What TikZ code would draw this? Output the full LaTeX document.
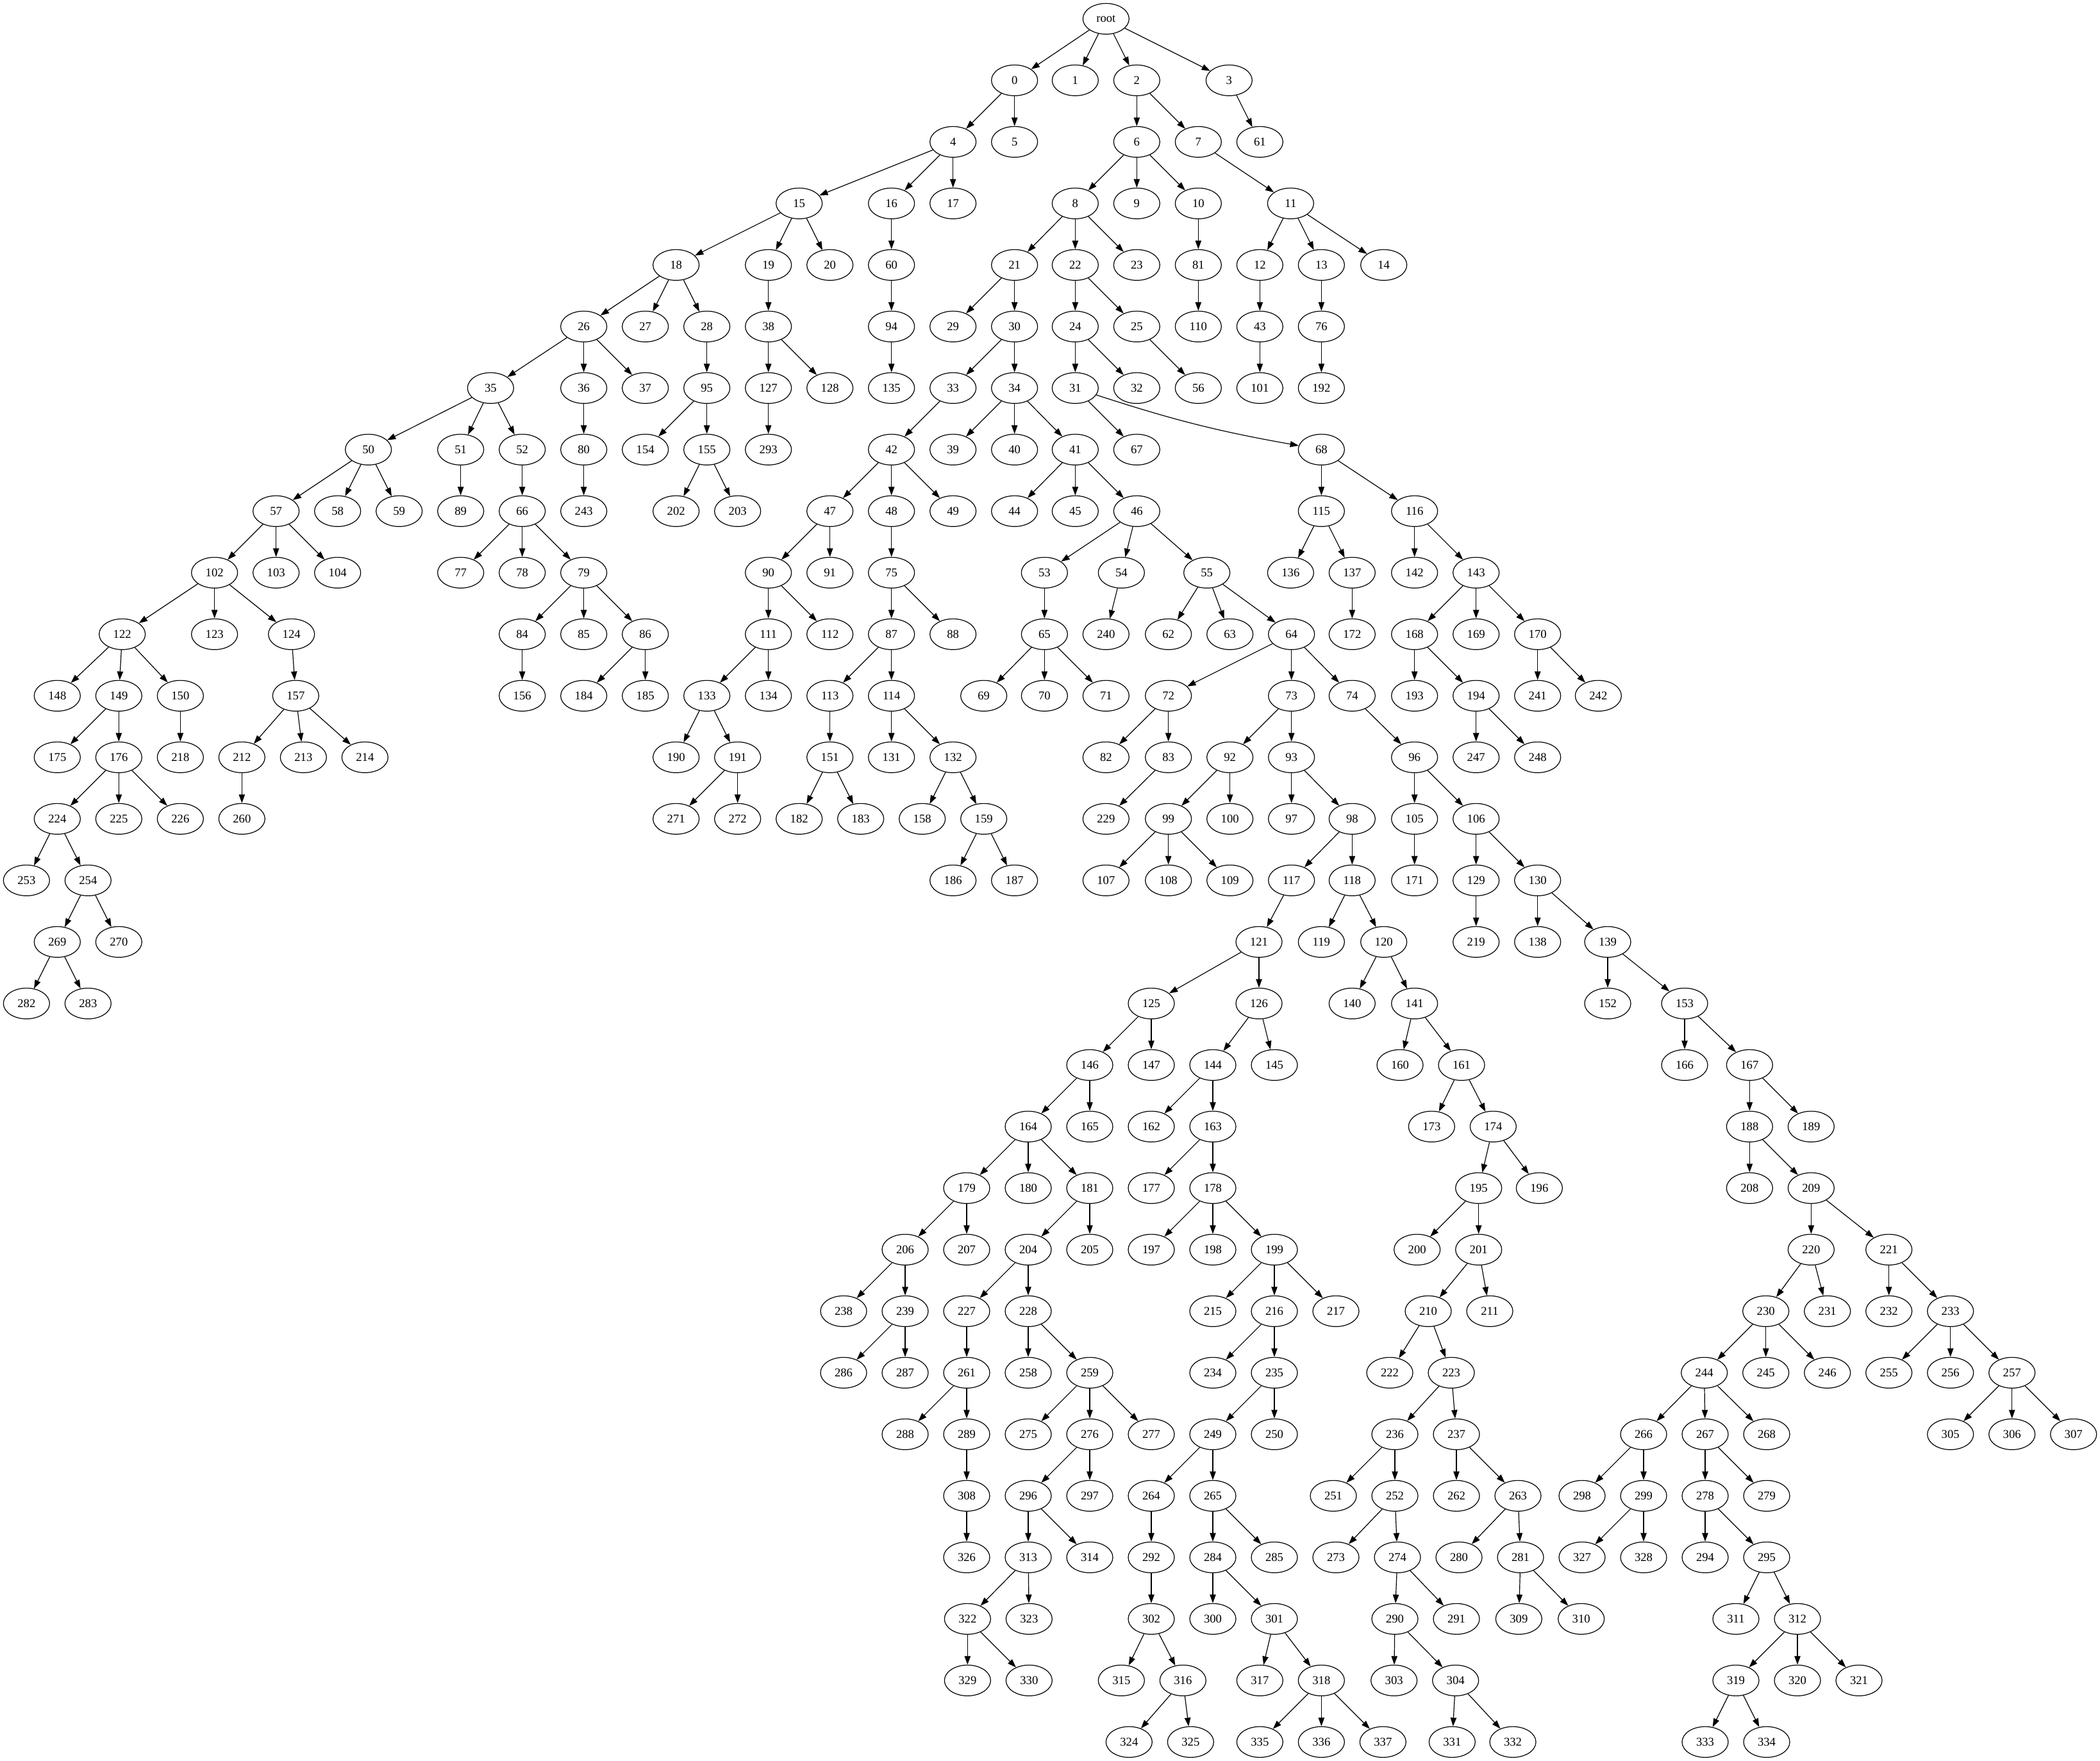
\documentclass[tikz,border=0pt]{standalone}
\usepackage{fontspec}
\setmainfont{Liberation Serif}
\usepackage{tikz}
\usetikzlibrary{shapes.geometric, arrows.meta}
\tikzset{
  vert/.style={ellipse, draw=black, line width=0.9pt, fill=white,
               minimum width=54pt, minimum height=36pt, inner sep=0pt,
               font=\fontsize{14}{16}\selectfont},
  arr/.style={-{Triangle[length=10pt, width=7pt]}, line width=0.9pt, draw=black},
}

\begin{document}
\begin{tikzpicture}[x=1pt, y=-72pt]

\useasboundingbox (0,-0.3056) rectangle (2457,28.3056);

% ========== Rank 0-4 ==========
\node[vert] (root) at (1294,0) {root};

\node[vert] (n0) at (1187,1) {0};
\node[vert] (n1) at (1258,1) {1};
\node[vert] (n2) at (1330,1) {2};
\node[vert] (n3) at (1438,1) {3};

\node[vert] (n4) at (1115,2) {4};
\node[vert] (n5) at (1187,2) {5};
\node[vert] (n6) at (1330,2) {6};
\node[vert] (n7) at (1402,2) {7};
\node[vert] (n61) at (1474,2) {61};

\node[vert] (n15) at (935,3) {15};
\node[vert] (n16) at (1043,3) {16};
\node[vert] (n17) at (1115,3) {17};
\node[vert] (n8) at (1258,3) {8};
\node[vert] (n9) at (1330,3) {9};
\node[vert] (n10) at (1402,3) {10};
\node[vert] (n11) at (1510,3) {11};

\node[vert] (n18) at (791,4) {18};
\node[vert] (n19) at (899,4) {19};
\node[vert] (n20) at (971,4) {20};
\node[vert] (n60) at (1043,4) {60};
\node[vert] (n21) at (1187,4) {21};
\node[vert] (n22) at (1258,4) {22};
\node[vert] (n23) at (1330,4) {23};
\node[vert] (n81) at (1402,4) {81};
\node[vert] (n12) at (1474,4) {12};
\node[vert] (n13) at (1546,4) {13};
\node[vert] (n14) at (1619,4) {14};

% ========== Rank 5-9 ==========
\node[vert] (n26) at (683,5) {26};
\node[vert] (n27) at (755,5) {27};
\node[vert] (n28) at (827,5) {28};
\node[vert] (n38) at (899,5) {38};
\node[vert] (n94) at (1043,5) {94};
\node[vert] (n29) at (1115,5) {29};
\node[vert] (n30) at (1187,5) {30};
\node[vert] (n24) at (1258,5) {24};
\node[vert] (n25) at (1330,5) {25};
\node[vert] (n110) at (1402,5) {110};
\node[vert] (n43) at (1474,5) {43};
\node[vert] (n76) at (1546,5) {76};

\node[vert] (n35) at (574,6) {35};
\node[vert] (n36) at (683,6) {36};
\node[vert] (n37) at (755,6) {37};
\node[vert] (n95) at (827,6) {95};
\node[vert] (n127) at (899,6) {127};
\node[vert] (n128) at (971,6) {128};
\node[vert] (n135) at (1043,6) {135};
\node[vert] (n33) at (1115,6) {33};
\node[vert] (n34) at (1187,6) {34};
\node[vert] (n31) at (1258,6) {31};
\node[vert] (n32) at (1330,6) {32};
\node[vert] (n56) at (1402,6) {56};
\node[vert] (n101) at (1474,6) {101};
\node[vert] (n192) at (1546,6) {192};

\node[vert] (n50) at (431,7) {50};
\node[vert] (n51) at (539,7) {51};
\node[vert] (n52) at (611,7) {52};
\node[vert] (n80) at (683,7) {80};
\node[vert] (n154) at (755,7) {154};
\node[vert] (n155) at (827,7) {155};
\node[vert] (n293) at (899,7) {293};
\node[vert] (n42) at (1043,7) {42};
\node[vert] (n39) at (1115,7) {39};
\node[vert] (n40) at (1187,7) {40};
\node[vert] (n41) at (1258,7) {41};
\node[vert] (n67) at (1330,7) {67};
\node[vert] (n68) at (1546,7) {68};

\node[vert] (n57) at (323,8) {57};
\node[vert] (n58) at (395,8) {58};
\node[vert] (n59) at (467,8) {59};
\node[vert] (n89) at (539,8) {89};
\node[vert] (n66) at (611,8) {66};
\node[vert] (n243) at (683,8) {243};
\node[vert] (n202) at (791,8) {202};
\node[vert] (n203) at (863,8) {203};
\node[vert] (n47) at (971,8) {47};
\node[vert] (n48) at (1043,8) {48};
\node[vert] (n49) at (1115,8) {49};
\node[vert] (n44) at (1187,8) {44};
\node[vert] (n45) at (1258,8) {45};
\node[vert] (n46) at (1330,8) {46};
\node[vert] (n115) at (1546,8) {115};
\node[vert] (n116) at (1655,8) {116};

\node[vert] (n102) at (251,9) {102};
\node[vert] (n103) at (323,9) {103};
\node[vert] (n104) at (395,9) {104};
\node[vert] (n77) at (539,9) {77};
\node[vert] (n78) at (611,9) {78};
\node[vert] (n79) at (683,9) {79};
\node[vert] (n90) at (899,9) {90};
\node[vert] (n91) at (971,9) {91};
\node[vert] (n75) at (1043,9) {75};
\node[vert] (n53) at (1222,9) {53};
\node[vert] (n54) at (1312,9) {54};
\node[vert] (n55) at (1412,9) {55};
\node[vert] (n136) at (1510,9) {136};
\node[vert] (n137) at (1582,9) {137};
\node[vert] (n142) at (1655,9) {142};
\node[vert] (n143) at (1727,9) {143};

% ========== Rank 10-14 ==========
\node[vert] (n122) at (143,10) {122};
\node[vert] (n123) at (251,10) {123};
\node[vert] (n124) at (341,10) {124};
\node[vert] (n84) at (611,10) {84};
\node[vert] (n85) at (683,10) {85};
\node[vert] (n86) at (755,10) {86};
\node[vert] (n111) at (899,10) {111};
\node[vert] (n112) at (971,10) {112};
\node[vert] (n87) at (1043,10) {87};
\node[vert] (n88) at (1115,10) {88};
\node[vert] (n65) at (1222,10) {65};
\node[vert] (n240) at (1294,10) {240};
\node[vert] (n62) at (1367,10) {62};
\node[vert] (n63) at (1439,10) {63};
\node[vert] (n64) at (1511,10) {64};
\node[vert] (n172) at (1582,10) {172};
\node[vert] (n168) at (1655,10) {168};
\node[vert] (n169) at (1727,10) {169};
\node[vert] (n170) at (1799,10) {170};

\node[vert] (n148) at (67,11) {148};
\node[vert] (n149) at (139,11) {149};
\node[vert] (n150) at (211,11) {150};
\node[vert] (n157) at (346,11) {157};
\node[vert] (n156) at (611,11) {156};
\node[vert] (n184) at (683,11) {184};
\node[vert] (n185) at (755,11) {185};
\node[vert] (n133) at (827,11) {133};
\node[vert] (n134) at (899,11) {134};
\node[vert] (n113) at (971,11) {113};
\node[vert] (n114) at (1043,11) {114};
\node[vert] (n69) at (1151,11) {69};
\node[vert] (n70) at (1222,11) {70};
\node[vert] (n71) at (1294,11) {71};
\node[vert] (n72) at (1367,11) {72};
\node[vert] (n73) at (1511,11) {73};
\node[vert] (n74) at (1582,11) {74};
\node[vert] (n193) at (1655,11) {193};
\node[vert] (n194) at (1727,11) {194};
\node[vert] (n241) at (1799,11) {241};
\node[vert] (n242) at (1870,11) {242};

\node[vert] (n175) at (67,12) {175};
\node[vert] (n176) at (139,12) {176};
\node[vert] (n218) at (211,12) {218};
\node[vert] (n212) at (283,12) {212};
\node[vert] (n213) at (355,12) {213};
\node[vert] (n214) at (427,12) {214};
\node[vert] (n190) at (791,12) {190};
\node[vert] (n191) at (863,12) {191};
\node[vert] (n151) at (971,12) {151};
\node[vert] (n131) at (1043,12) {131};
\node[vert] (n132) at (1115,12) {132};
\node[vert] (n82) at (1294,12) {82};
\node[vert] (n83) at (1367,12) {83};
\node[vert] (n92) at (1439,12) {92};
\node[vert] (n93) at (1511,12) {93};
\node[vert] (n96) at (1655,12) {96};
\node[vert] (n247) at (1727,12) {247};
\node[vert] (n248) at (1799,12) {248};

\node[vert] (n224) at (67,13) {224};
\node[vert] (n225) at (139,13) {225};
\node[vert] (n226) at (211,13) {226};
\node[vert] (n260) at (283,13) {260};
\node[vert] (n271) at (791,13) {271};
\node[vert] (n272) at (863,13) {272};
\node[vert] (n182) at (935,13) {182};
\node[vert] (n183) at (1007,13) {183};
\node[vert] (n158) at (1079,13) {158};
\node[vert] (n159) at (1151,13) {159};
\node[vert] (n229) at (1294,13) {229};
\node[vert] (n99) at (1367,13) {99};
\node[vert] (n100) at (1439,13) {100};
\node[vert] (n97) at (1511,13) {97};
\node[vert] (n98) at (1582,13) {98};
\node[vert] (n105) at (1655,13) {105};
\node[vert] (n106) at (1727,13) {106};

\node[vert] (n253) at (31,14) {253};
\node[vert] (n254) at (103,14) {254};
\node[vert] (n186) at (1115,14) {186};
\node[vert] (n187) at (1187,14) {187};
\node[vert] (n107) at (1294,14) {107};
\node[vert] (n108) at (1367,14) {108};
\node[vert] (n109) at (1439,14) {109};
\node[vert] (n117) at (1511,14) {117};
\node[vert] (n118) at (1582,14) {118};
\node[vert] (n171) at (1655,14) {171};
\node[vert] (n129) at (1727,14) {129};
\node[vert] (n130) at (1799,14) {130};

% ========== Rank 15-19 ==========
\node[vert] (n269) at (67,15) {269};
\node[vert] (n270) at (139,15) {270};
\node[vert] (n121) at (1473,15) {121};
\node[vert] (n119) at (1546,15) {119};
\node[vert] (n120) at (1619,15) {120};
\node[vert] (n219) at (1727,15) {219};
\node[vert] (n138) at (1799,15) {138};
\node[vert] (n139) at (1881,15) {139};

\node[vert] (n282) at (31,16) {282};
\node[vert] (n283) at (103,16) {283};
\node[vert] (n125) at (1347,16) {125};
\node[vert] (n126) at (1473,16) {126};
\node[vert] (n140) at (1582,16) {140};
\node[vert] (n141) at (1655,16) {141};
\node[vert] (n152) at (1881,16) {152};
\node[vert] (n153) at (1971,16) {153};

\node[vert] (n146) at (1275,17) {146};
\node[vert] (n147) at (1347,17) {147};
\node[vert] (n144) at (1419,17) {144};
\node[vert] (n145) at (1491,17) {145};
\node[vert] (n160) at (1638,17) {160};
\node[vert] (n161) at (1710,17) {161};
\node[vert] (n166) at (1971,17) {166};
\node[vert] (n167) at (2047,17) {167};

\node[vert] (n164) at (1203,18) {164};
\node[vert] (n165) at (1275,18) {165};
\node[vert] (n162) at (1347,18) {162};
\node[vert] (n163) at (1419,18) {163};
\node[vert] (n173) at (1675,18) {173};
\node[vert] (n174) at (1747,18) {174};
\node[vert] (n188) at (2047,18) {188};
\node[vert] (n189) at (2119,18) {189};

\node[vert] (n179) at (1131,19) {179};
\node[vert] (n180) at (1203,19) {180};
\node[vert] (n181) at (1275,19) {181};
\node[vert] (n177) at (1347,19) {177};
\node[vert] (n178) at (1419,19) {178};
\node[vert] (n195) at (1730,19) {195};
\node[vert] (n196) at (1801,19) {196};
\node[vert] (n208) at (2047,19) {208};
\node[vert] (n209) at (2119,19) {209};

% ========== Rank 20-24 ==========
\node[vert] (n206) at (1059,20) {206};
\node[vert] (n207) at (1131,20) {207};
\node[vert] (n204) at (1203,20) {204};
\node[vert] (n205) at (1275,20) {205};
\node[vert] (n197) at (1347,20) {197};
\node[vert] (n198) at (1419,20) {198};
\node[vert] (n199) at (1491,20) {199};
\node[vert] (n200) at (1658,20) {200};
\node[vert] (n201) at (1730,20) {201};
\node[vert] (n220) at (2119,20) {220};
\node[vert] (n221) at (2210,20) {221};

\node[vert] (n238) at (987,21) {238};
\node[vert] (n239) at (1059,21) {239};
\node[vert] (n227) at (1131,21) {227};
\node[vert] (n228) at (1203,21) {228};
\node[vert] (n215) at (1419,21) {215};
\node[vert] (n216) at (1491,21) {216};
\node[vert] (n217) at (1563,21) {217};
\node[vert] (n210) at (1671,21) {210};
\node[vert] (n211) at (1743,21) {211};
\node[vert] (n230) at (2066,21) {230};
\node[vert] (n231) at (2138,21) {231};
\node[vert] (n232) at (2210,21) {232};
\node[vert] (n233) at (2282,21) {233};

\node[vert] (n286) at (987,22) {286};
\node[vert] (n287) at (1059,22) {287};
\node[vert] (n261) at (1131,22) {261};
\node[vert] (n258) at (1203,22) {258};
\node[vert] (n259) at (1275,22) {259};
\node[vert] (n234) at (1419,22) {234};
\node[vert] (n235) at (1491,22) {235};
\node[vert] (n222) at (1626,22) {222};
\node[vert] (n223) at (1698,22) {223};
\node[vert] (n244) at (1994,22) {244};
\node[vert] (n245) at (2066,22) {245};
\node[vert] (n246) at (2138,22) {246};
\node[vert] (n255) at (2210,22) {255};
\node[vert] (n256) at (2282,22) {256};
\node[vert] (n257) at (2354,22) {257};

\node[vert] (n288) at (1059,23) {288};
\node[vert] (n289) at (1131,23) {289};
\node[vert] (n275) at (1203,23) {275};
\node[vert] (n276) at (1275,23) {276};
\node[vert] (n277) at (1347,23) {277};
\node[vert] (n249) at (1419,23) {249};
\node[vert] (n250) at (1491,23) {250};
\node[vert] (n236) at (1632,23) {236};
\node[vert] (n237) at (1704,23) {237};
\node[vert] (n266) at (1923,23) {266};
\node[vert] (n267) at (1995,23) {267};
\node[vert] (n268) at (2067,23) {268};
\node[vert] (n305) at (2282,23) {305};
\node[vert] (n306) at (2354,23) {306};
\node[vert] (n307) at (2426,23) {307};

\node[vert] (n308) at (1131,24) {308};
\node[vert] (n296) at (1203,24) {296};
\node[vert] (n297) at (1275,24) {297};
\node[vert] (n264) at (1347,24) {264};
\node[vert] (n265) at (1419,24) {265};
\node[vert] (n251) at (1560,24) {251};
\node[vert] (n252) at (1632,24) {252};
\node[vert] (n262) at (1704,24) {262};
\node[vert] (n263) at (1776,24) {263};
\node[vert] (n298) at (1851,24) {298};
\node[vert] (n299) at (1923,24) {299};
\node[vert] (n278) at (1995,24) {278};
\node[vert] (n279) at (2067,24) {279};

% ========== Rank 25-28 ==========
\node[vert] (n326) at (1131,25) {326};
\node[vert] (n313) at (1203,25) {313};
\node[vert] (n314) at (1275,25) {314};
\node[vert] (n292) at (1347,25) {292};
\node[vert] (n284) at (1419,25) {284};
\node[vert] (n285) at (1491,25) {285};
\node[vert] (n273) at (1563,25) {273};
\node[vert] (n274) at (1635,25) {274};
\node[vert] (n280) at (1707,25) {280};
\node[vert] (n281) at (1779,25) {281};
\node[vert] (n327) at (1851,25) {327};
\node[vert] (n328) at (1923,25) {328};
\node[vert] (n294) at (1995,25) {294};
\node[vert] (n295) at (2067,25) {295};

\node[vert] (n322) at (1132,26) {322};
\node[vert] (n323) at (1204,26) {323};
\node[vert] (n302) at (1347,26) {302};
\node[vert] (n300) at (1419,26) {300};
\node[vert] (n301) at (1491,26) {301};
\node[vert] (n290) at (1632,26) {290};
\node[vert] (n291) at (1704,26) {291};
\node[vert] (n309) at (1777,26) {309};
\node[vert] (n310) at (1850,26) {310};
\node[vert] (n311) at (2031,26) {311};
\node[vert] (n312) at (2103,26) {312};

\node[vert] (n329) at (1132,27) {329};
\node[vert] (n330) at (1204,27) {330};
\node[vert] (n315) at (1312,27) {315};
\node[vert] (n316) at (1384,27) {316};
\node[vert] (n317) at (1474,27) {317};
\node[vert] (n318) at (1546,27) {318};
\node[vert] (n303) at (1631,27) {303};
\node[vert] (n304) at (1703,27) {304};
\node[vert] (n319) at (2031,27) {319};
\node[vert] (n320) at (2103,27) {320};
\node[vert] (n321) at (2175,27) {321};

\node[vert] (n324) at (1321,28) {324};
\node[vert] (n325) at (1393,28) {325};
\node[vert] (n335) at (1474,28) {335};
\node[vert] (n336) at (1546,28) {336};
\node[vert] (n337) at (1618,28) {337};
\node[vert] (n331) at (1699,28) {331};
\node[vert] (n332) at (1770,28) {332};
\node[vert] (n333) at (1995,28) {333};
\node[vert] (n334) at (2067,28) {334};

% ========== Krawedzie ==========
\draw[arr] (root) -- (n0); \draw[arr] (root) -- (n1); \draw[arr] (root) -- (n2); \draw[arr] (root) -- (n3);
\draw[arr] (n0) -- (n4); \draw[arr] (n0) -- (n5);
\draw[arr] (n2) -- (n6); \draw[arr] (n2) -- (n7);
\draw[arr] (n3) -- (n61);
\draw[arr] (n4) -- (n15); \draw[arr] (n4) -- (n16); \draw[arr] (n4) -- (n17);
\draw[arr] (n6) -- (n8); \draw[arr] (n6) -- (n9); \draw[arr] (n6) -- (n10);
\draw[arr] (n7) -- (n11);
\draw[arr] (n15) -- (n18); \draw[arr] (n15) -- (n19); \draw[arr] (n15) -- (n20);
\draw[arr] (n16) -- (n60);
\draw[arr] (n8) -- (n21); \draw[arr] (n8) -- (n22); \draw[arr] (n8) -- (n23);
\draw[arr] (n10) -- (n81);
\draw[arr] (n11) -- (n12); \draw[arr] (n11) -- (n13); \draw[arr] (n11) -- (n14);
\draw[arr] (n18) -- (n26); \draw[arr] (n18) -- (n27); \draw[arr] (n18) -- (n28);
\draw[arr] (n19) -- (n38);
\draw[arr] (n60) -- (n94);
\draw[arr] (n21) -- (n29); \draw[arr] (n21) -- (n30);
\draw[arr] (n22) -- (n24); \draw[arr] (n22) -- (n25);
\draw[arr] (n81) -- (n110);
\draw[arr] (n12) -- (n43);
\draw[arr] (n13) -- (n76);
\draw[arr] (n26) -- (n35); \draw[arr] (n26) -- (n36); \draw[arr] (n26) -- (n37);
\draw[arr] (n28) -- (n95);
\draw[arr] (n38) -- (n127); \draw[arr] (n38) -- (n128);
\draw[arr] (n94) -- (n135);
\draw[arr] (n30) -- (n33); \draw[arr] (n30) -- (n34);
\draw[arr] (n24) -- (n31); \draw[arr] (n24) -- (n32);
\draw[arr] (n25) -- (n56);
\draw[arr] (n43) -- (n101);
\draw[arr] (n76) -- (n192);
\draw[arr] (n35) -- (n50); \draw[arr] (n35) -- (n51); \draw[arr] (n35) -- (n52);
\draw[arr] (n36) -- (n80);
\draw[arr] (n95) -- (n154); \draw[arr] (n95) -- (n155);
\draw[arr] (n127) -- (n293);
\draw[arr] (n33) -- (n42);
\draw[arr] (n34) -- (n39); \draw[arr] (n34) -- (n40); \draw[arr] (n34) -- (n41);
\draw[arr] (n31) -- (n67); \draw[arr] (n31) to[bend right=4] (n68);
\draw[arr] (n50) -- (n57); \draw[arr] (n50) -- (n58); \draw[arr] (n50) -- (n59);
\draw[arr] (n51) -- (n89);
\draw[arr] (n52) -- (n66);
\draw[arr] (n80) -- (n243);
\draw[arr] (n155) -- (n202); \draw[arr] (n155) -- (n203);
\draw[arr] (n42) -- (n47); \draw[arr] (n42) -- (n48); \draw[arr] (n42) -- (n49);
\draw[arr] (n41) -- (n44); \draw[arr] (n41) -- (n45); \draw[arr] (n41) -- (n46);
\draw[arr] (n68) -- (n115); \draw[arr] (n68) -- (n116);
\draw[arr] (n57) -- (n102); \draw[arr] (n57) -- (n103); \draw[arr] (n57) -- (n104);
\draw[arr] (n66) -- (n77); \draw[arr] (n66) -- (n78); \draw[arr] (n66) -- (n79);
\draw[arr] (n47) -- (n90); \draw[arr] (n47) -- (n91);
\draw[arr] (n48) -- (n75);
\draw[arr] (n46) -- (n53); \draw[arr] (n46) -- (n54); \draw[arr] (n46) -- (n55);
\draw[arr] (n115) -- (n136); \draw[arr] (n115) -- (n137);
\draw[arr] (n116) -- (n142); \draw[arr] (n116) -- (n143);
\draw[arr] (n102) -- (n122); \draw[arr] (n102) -- (n123); \draw[arr] (n102) -- (n124);
\draw[arr] (n79) -- (n84); \draw[arr] (n79) -- (n85); \draw[arr] (n79) -- (n86);
\draw[arr] (n90) -- (n111); \draw[arr] (n90) -- (n112);
\draw[arr] (n75) -- (n87); \draw[arr] (n75) -- (n88);
\draw[arr] (n53) -- (n65);
\draw[arr] (n54) -- (n240);
\draw[arr] (n55) -- (n62); \draw[arr] (n55) -- (n63); \draw[arr] (n55) -- (n64);
\draw[arr] (n137) -- (n172);
\draw[arr] (n143) -- (n168); \draw[arr] (n143) -- (n169); \draw[arr] (n143) -- (n170);
\draw[arr] (n122) -- (n148); \draw[arr] (n122) -- (n149); \draw[arr] (n122) -- (n150);
\draw[arr] (n124) -- (n157);
\draw[arr] (n84) -- (n156);
\draw[arr] (n86) -- (n184); \draw[arr] (n86) -- (n185);
\draw[arr] (n111) -- (n133); \draw[arr] (n111) -- (n134);
\draw[arr] (n87) -- (n113); \draw[arr] (n87) -- (n114);
\draw[arr] (n65) -- (n69); \draw[arr] (n65) -- (n70); \draw[arr] (n65) -- (n71);
\draw[arr] (n64) -- (n72); \draw[arr] (n64) -- (n73); \draw[arr] (n64) -- (n74);
\draw[arr] (n168) -- (n193); \draw[arr] (n168) -- (n194);
\draw[arr] (n170) -- (n241); \draw[arr] (n170) -- (n242);
\draw[arr] (n149) -- (n175); \draw[arr] (n149) -- (n176);
\draw[arr] (n150) -- (n218);
\draw[arr] (n157) -- (n212); \draw[arr] (n157) -- (n213); \draw[arr] (n157) -- (n214);
\draw[arr] (n133) -- (n190); \draw[arr] (n133) -- (n191);
\draw[arr] (n113) -- (n151);
\draw[arr] (n114) -- (n131); \draw[arr] (n114) -- (n132);
\draw[arr] (n72) -- (n82); \draw[arr] (n72) -- (n83);
\draw[arr] (n73) -- (n92); \draw[arr] (n73) -- (n93);
\draw[arr] (n74) -- (n96);
\draw[arr] (n194) -- (n247); \draw[arr] (n194) -- (n248);
\draw[arr] (n176) -- (n224); \draw[arr] (n176) -- (n225); \draw[arr] (n176) -- (n226);
\draw[arr] (n212) -- (n260);
\draw[arr] (n191) -- (n271); \draw[arr] (n191) -- (n272);
\draw[arr] (n151) -- (n182); \draw[arr] (n151) -- (n183);
\draw[arr] (n132) -- (n158); \draw[arr] (n132) -- (n159);
\draw[arr] (n83) -- (n229);
\draw[arr] (n92) -- (n99); \draw[arr] (n92) -- (n100);
\draw[arr] (n93) -- (n97); \draw[arr] (n93) -- (n98);
\draw[arr] (n96) -- (n105); \draw[arr] (n96) -- (n106);
\draw[arr] (n224) -- (n253); \draw[arr] (n224) -- (n254);
\draw[arr] (n159) -- (n186); \draw[arr] (n159) -- (n187);
\draw[arr] (n99) -- (n107); \draw[arr] (n99) -- (n108); \draw[arr] (n99) -- (n109);
\draw[arr] (n98) -- (n117); \draw[arr] (n98) -- (n118);
\draw[arr] (n105) -- (n171);
\draw[arr] (n106) -- (n129); \draw[arr] (n106) -- (n130);
\draw[arr] (n254) -- (n269); \draw[arr] (n254) -- (n270);
\draw[arr] (n117) -- (n121);
\draw[arr] (n118) -- (n119); \draw[arr] (n118) -- (n120);
\draw[arr] (n129) -- (n219);
\draw[arr] (n130) -- (n138); \draw[arr] (n130) -- (n139);
\draw[arr] (n269) -- (n282); \draw[arr] (n269) -- (n283);
\draw[arr] (n121) -- (n125); \draw[arr] (n121) -- (n126);
\draw[arr] (n120) -- (n140); \draw[arr] (n120) -- (n141);
\draw[arr] (n139) -- (n152); \draw[arr] (n139) -- (n153);
\draw[arr] (n125) -- (n146); \draw[arr] (n125) -- (n147);
\draw[arr] (n126) -- (n144); \draw[arr] (n126) -- (n145);
\draw[arr] (n141) -- (n160); \draw[arr] (n141) -- (n161);
\draw[arr] (n153) -- (n166); \draw[arr] (n153) -- (n167);
\draw[arr] (n146) -- (n164); \draw[arr] (n146) -- (n165);
\draw[arr] (n144) -- (n162); \draw[arr] (n144) -- (n163);
\draw[arr] (n161) -- (n173); \draw[arr] (n161) -- (n174);
\draw[arr] (n167) -- (n188); \draw[arr] (n167) -- (n189);
\draw[arr] (n164) -- (n179); \draw[arr] (n164) -- (n180); \draw[arr] (n164) -- (n181);
\draw[arr] (n163) -- (n177); \draw[arr] (n163) -- (n178);
\draw[arr] (n174) -- (n195); \draw[arr] (n174) -- (n196);
\draw[arr] (n188) -- (n208); \draw[arr] (n188) -- (n209);
\draw[arr] (n179) -- (n206); \draw[arr] (n179) -- (n207);
\draw[arr] (n181) -- (n204); \draw[arr] (n181) -- (n205);
\draw[arr] (n178) -- (n197); \draw[arr] (n178) -- (n198); \draw[arr] (n178) -- (n199);
\draw[arr] (n195) -- (n200); \draw[arr] (n195) -- (n201);
\draw[arr] (n209) -- (n220); \draw[arr] (n209) -- (n221);
\draw[arr] (n206) -- (n238); \draw[arr] (n206) -- (n239);
\draw[arr] (n204) -- (n227); \draw[arr] (n204) -- (n228);
\draw[arr] (n199) -- (n215); \draw[arr] (n199) -- (n216); \draw[arr] (n199) -- (n217);
\draw[arr] (n201) -- (n210); \draw[arr] (n201) -- (n211);
\draw[arr] (n220) -- (n230); \draw[arr] (n220) -- (n231);
\draw[arr] (n221) -- (n232); \draw[arr] (n221) -- (n233);
\draw[arr] (n239) -- (n286); \draw[arr] (n239) -- (n287);
\draw[arr] (n227) -- (n261);
\draw[arr] (n228) -- (n258); \draw[arr] (n228) -- (n259);
\draw[arr] (n216) -- (n234); \draw[arr] (n216) -- (n235);
\draw[arr] (n210) -- (n222); \draw[arr] (n210) -- (n223);
\draw[arr] (n230) -- (n244); \draw[arr] (n230) -- (n245); \draw[arr] (n230) -- (n246);
\draw[arr] (n233) -- (n255); \draw[arr] (n233) -- (n256); \draw[arr] (n233) -- (n257);
\draw[arr] (n261) -- (n288); \draw[arr] (n261) -- (n289);
\draw[arr] (n259) -- (n275); \draw[arr] (n259) -- (n276); \draw[arr] (n259) -- (n277);
\draw[arr] (n235) -- (n249); \draw[arr] (n235) -- (n250);
\draw[arr] (n223) -- (n236); \draw[arr] (n223) -- (n237);
\draw[arr] (n244) -- (n266); \draw[arr] (n244) -- (n267); \draw[arr] (n244) -- (n268);
\draw[arr] (n257) -- (n305); \draw[arr] (n257) -- (n306); \draw[arr] (n257) -- (n307);
\draw[arr] (n289) -- (n308);
\draw[arr] (n276) -- (n296); \draw[arr] (n276) -- (n297);
\draw[arr] (n249) -- (n264); \draw[arr] (n249) -- (n265);
\draw[arr] (n236) -- (n251); \draw[arr] (n236) -- (n252);
\draw[arr] (n237) -- (n262); \draw[arr] (n237) -- (n263);
\draw[arr] (n266) -- (n298); \draw[arr] (n266) -- (n299);
\draw[arr] (n267) -- (n278); \draw[arr] (n267) -- (n279);
\draw[arr] (n308) -- (n326);
\draw[arr] (n296) -- (n313); \draw[arr] (n296) -- (n314);
\draw[arr] (n264) -- (n292);
\draw[arr] (n265) -- (n284); \draw[arr] (n265) -- (n285);
\draw[arr] (n252) -- (n273); \draw[arr] (n252) -- (n274);
\draw[arr] (n263) -- (n280); \draw[arr] (n263) -- (n281);
\draw[arr] (n299) -- (n327); \draw[arr] (n299) -- (n328);
\draw[arr] (n278) -- (n294); \draw[arr] (n278) -- (n295);
\draw[arr] (n313) -- (n322); \draw[arr] (n313) -- (n323);
\draw[arr] (n292) -- (n302);
\draw[arr] (n284) -- (n300); \draw[arr] (n284) -- (n301);
\draw[arr] (n274) -- (n290); \draw[arr] (n274) -- (n291);
\draw[arr] (n281) -- (n309); \draw[arr] (n281) -- (n310);
\draw[arr] (n295) -- (n311); \draw[arr] (n295) -- (n312);
\draw[arr] (n322) -- (n329); \draw[arr] (n322) -- (n330);
\draw[arr] (n302) -- (n315); \draw[arr] (n302) -- (n316);
\draw[arr] (n301) -- (n317); \draw[arr] (n301) -- (n318);
\draw[arr] (n290) -- (n303); \draw[arr] (n290) -- (n304);
\draw[arr] (n312) -- (n319); \draw[arr] (n312) -- (n320); \draw[arr] (n312) -- (n321);
\draw[arr] (n316) -- (n324); \draw[arr] (n316) -- (n325);
\draw[arr] (n318) -- (n335); \draw[arr] (n318) -- (n336); \draw[arr] (n318) -- (n337);
\draw[arr] (n304) -- (n331); \draw[arr] (n304) -- (n332);
\draw[arr] (n319) -- (n333); \draw[arr] (n319) -- (n334);

\end{tikzpicture}
\end{document}
